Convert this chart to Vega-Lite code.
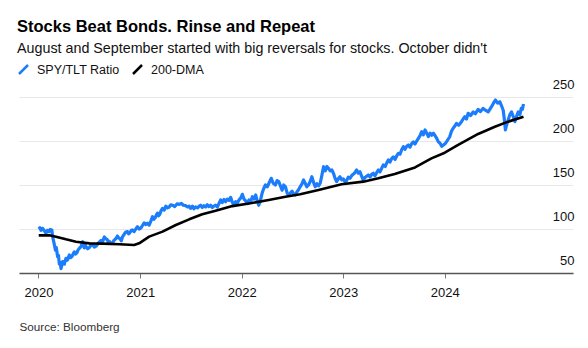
{
  "$schema": "https://vega.github.io/schema/vega-lite/v6.json",
  "width": 554,
  "height": 176,
  "autosize": {"type": "none"},
  "padding": {"left": 19, "top": 97, "right": 15, "bottom": 75},
  "background": "#ffffff",
  "config": {
    "view": {"stroke": null},
    "font": "Liberation Sans"
  },
  "title": {
    "text": "Stocks Beat Bonds. Rinse and Repeat",
    "subtitle": "August and September started with big reversals for stocks. October didn't",
    "anchor": "start",
    "frame": "group",
    "font": "Liberation Sans",
    "fontSize": 16.5,
    "fontWeight": "bold",
    "color": "#000000",
    "subtitleFont": "Liberation Sans",
    "subtitleFontSize": 14.3,
    "subtitleColor": "#111111",
    "subtitlePadding": 6.5,
    "dx": -2,
    "offset": 7
  },
  "datasets": {
    "ratio": [
      {"date": "2020-01-02", "series": "SPY/TLT Ratio", "value": 100},
      {"date": "2020-01-06", "series": "SPY/TLT Ratio", "value": 101.5},
      {"date": "2020-01-10", "series": "SPY/TLT Ratio", "value": 98.5},
      {"date": "2020-01-13", "series": "SPY/TLT Ratio", "value": 100.5},
      {"date": "2020-01-16", "series": "SPY/TLT Ratio", "value": 100.8},
      {"date": "2020-01-22", "series": "SPY/TLT Ratio", "value": 98},
      {"date": "2020-01-28", "series": "SPY/TLT Ratio", "value": 95},
      {"date": "2020-02-02", "series": "SPY/TLT Ratio", "value": 98.5},
      {"date": "2020-02-08", "series": "SPY/TLT Ratio", "value": 97},
      {"date": "2020-02-12", "series": "SPY/TLT Ratio", "value": 99.5},
      {"date": "2020-02-15", "series": "SPY/TLT Ratio", "value": 98},
      {"date": "2020-02-18", "series": "SPY/TLT Ratio", "value": 99},
      {"date": "2020-02-21", "series": "SPY/TLT Ratio", "value": 91},
      {"date": "2020-02-26", "series": "SPY/TLT Ratio", "value": 84},
      {"date": "2020-03-02", "series": "SPY/TLT Ratio", "value": 76},
      {"date": "2020-03-05", "series": "SPY/TLT Ratio", "value": 79},
      {"date": "2020-03-10", "series": "SPY/TLT Ratio", "value": 68.5},
      {"date": "2020-03-13", "series": "SPY/TLT Ratio", "value": 70},
      {"date": "2020-03-16", "series": "SPY/TLT Ratio", "value": 60},
      {"date": "2020-03-19", "series": "SPY/TLT Ratio", "value": 62},
      {"date": "2020-03-22", "series": "SPY/TLT Ratio", "value": 55},
      {"date": "2020-03-25", "series": "SPY/TLT Ratio", "value": 59},
      {"date": "2020-03-28", "series": "SPY/TLT Ratio", "value": 63},
      {"date": "2020-03-31", "series": "SPY/TLT Ratio", "value": 60.5},
      {"date": "2020-04-03", "series": "SPY/TLT Ratio", "value": 60},
      {"date": "2020-04-06", "series": "SPY/TLT Ratio", "value": 64},
      {"date": "2020-04-09", "series": "SPY/TLT Ratio", "value": 66.7},
      {"date": "2020-04-12", "series": "SPY/TLT Ratio", "value": 64.5},
      {"date": "2020-04-15", "series": "SPY/TLT Ratio", "value": 65},
      {"date": "2020-04-18", "series": "SPY/TLT Ratio", "value": 68},
      {"date": "2020-04-21", "series": "SPY/TLT Ratio", "value": 70.5},
      {"date": "2020-04-26", "series": "SPY/TLT Ratio", "value": 67.5},
      {"date": "2020-05-01", "series": "SPY/TLT Ratio", "value": 69},
      {"date": "2020-05-05", "series": "SPY/TLT Ratio", "value": 72},
      {"date": "2020-05-09", "series": "SPY/TLT Ratio", "value": 74},
      {"date": "2020-05-13", "series": "SPY/TLT Ratio", "value": 71.5},
      {"date": "2020-05-18", "series": "SPY/TLT Ratio", "value": 73},
      {"date": "2020-05-22", "series": "SPY/TLT Ratio", "value": 76},
      {"date": "2020-05-27", "series": "SPY/TLT Ratio", "value": 78},
      {"date": "2020-06-02", "series": "SPY/TLT Ratio", "value": 80},
      {"date": "2020-06-08", "series": "SPY/TLT Ratio", "value": 85.6},
      {"date": "2020-06-11", "series": "SPY/TLT Ratio", "value": 81},
      {"date": "2020-06-14", "series": "SPY/TLT Ratio", "value": 78.5},
      {"date": "2020-06-17", "series": "SPY/TLT Ratio", "value": 82},
      {"date": "2020-06-20", "series": "SPY/TLT Ratio", "value": 80},
      {"date": "2020-06-26", "series": "SPY/TLT Ratio", "value": 77.5},
      {"date": "2020-07-02", "series": "SPY/TLT Ratio", "value": 79},
      {"date": "2020-07-08", "series": "SPY/TLT Ratio", "value": 81.5},
      {"date": "2020-07-14", "series": "SPY/TLT Ratio", "value": 82},
      {"date": "2020-07-20", "series": "SPY/TLT Ratio", "value": 79.5},
      {"date": "2020-07-26", "series": "SPY/TLT Ratio", "value": 80.5},
      {"date": "2020-08-01", "series": "SPY/TLT Ratio", "value": 83},
      {"date": "2020-08-07", "series": "SPY/TLT Ratio", "value": 85},
      {"date": "2020-08-13", "series": "SPY/TLT Ratio", "value": 87},
      {"date": "2020-08-19", "series": "SPY/TLT Ratio", "value": 86},
      {"date": "2020-08-25", "series": "SPY/TLT Ratio", "value": 91},
      {"date": "2020-08-30", "series": "SPY/TLT Ratio", "value": 89},
      {"date": "2020-09-04", "series": "SPY/TLT Ratio", "value": 88},
      {"date": "2020-09-08", "series": "SPY/TLT Ratio", "value": 85},
      {"date": "2020-09-12", "series": "SPY/TLT Ratio", "value": 86},
      {"date": "2020-09-17", "series": "SPY/TLT Ratio", "value": 83.5},
      {"date": "2020-09-23", "series": "SPY/TLT Ratio", "value": 84},
      {"date": "2020-09-28", "series": "SPY/TLT Ratio", "value": 87},
      {"date": "2020-10-04", "series": "SPY/TLT Ratio", "value": 88.5},
      {"date": "2020-10-11", "series": "SPY/TLT Ratio", "value": 92},
      {"date": "2020-10-15", "series": "SPY/TLT Ratio", "value": 90},
      {"date": "2020-10-20", "series": "SPY/TLT Ratio", "value": 89},
      {"date": "2020-10-25", "series": "SPY/TLT Ratio", "value": 86.5},
      {"date": "2020-10-29", "series": "SPY/TLT Ratio", "value": 91},
      {"date": "2020-11-04", "series": "SPY/TLT Ratio", "value": 94},
      {"date": "2020-11-10", "series": "SPY/TLT Ratio", "value": 96.5},
      {"date": "2020-11-16", "series": "SPY/TLT Ratio", "value": 97},
      {"date": "2020-11-20", "series": "SPY/TLT Ratio", "value": 94.5},
      {"date": "2020-11-25", "series": "SPY/TLT Ratio", "value": 96},
      {"date": "2020-11-30", "series": "SPY/TLT Ratio", "value": 98.5},
      {"date": "2020-12-04", "series": "SPY/TLT Ratio", "value": 99},
      {"date": "2020-12-10", "series": "SPY/TLT Ratio", "value": 97},
      {"date": "2020-12-16", "series": "SPY/TLT Ratio", "value": 100},
      {"date": "2020-12-22", "series": "SPY/TLT Ratio", "value": 102.6},
      {"date": "2020-12-28", "series": "SPY/TLT Ratio", "value": 100},
      {"date": "2021-01-03", "series": "SPY/TLT Ratio", "value": 101},
      {"date": "2021-01-09", "series": "SPY/TLT Ratio", "value": 104},
      {"date": "2021-01-15", "series": "SPY/TLT Ratio", "value": 107},
      {"date": "2021-01-21", "series": "SPY/TLT Ratio", "value": 105},
      {"date": "2021-01-27", "series": "SPY/TLT Ratio", "value": 106.5},
      {"date": "2021-02-02", "series": "SPY/TLT Ratio", "value": 104.5},
      {"date": "2021-02-08", "series": "SPY/TLT Ratio", "value": 109},
      {"date": "2021-02-14", "series": "SPY/TLT Ratio", "value": 114},
      {"date": "2021-02-19", "series": "SPY/TLT Ratio", "value": 111},
      {"date": "2021-02-24", "series": "SPY/TLT Ratio", "value": 113},
      {"date": "2021-02-28", "series": "SPY/TLT Ratio", "value": 116},
      {"date": "2021-03-04", "series": "SPY/TLT Ratio", "value": 118},
      {"date": "2021-03-08", "series": "SPY/TLT Ratio", "value": 115},
      {"date": "2021-03-12", "series": "SPY/TLT Ratio", "value": 116.5},
      {"date": "2021-03-17", "series": "SPY/TLT Ratio", "value": 121},
      {"date": "2021-03-22", "series": "SPY/TLT Ratio", "value": 123.5},
      {"date": "2021-03-28", "series": "SPY/TLT Ratio", "value": 121.5},
      {"date": "2021-04-03", "series": "SPY/TLT Ratio", "value": 126},
      {"date": "2021-04-09", "series": "SPY/TLT Ratio", "value": 124},
      {"date": "2021-04-15", "series": "SPY/TLT Ratio", "value": 125},
      {"date": "2021-04-21", "series": "SPY/TLT Ratio", "value": 127.5},
      {"date": "2021-04-27", "series": "SPY/TLT Ratio", "value": 127},
      {"date": "2021-05-05", "series": "SPY/TLT Ratio", "value": 125.5},
      {"date": "2021-05-13", "series": "SPY/TLT Ratio", "value": 128.5},
      {"date": "2021-05-21", "series": "SPY/TLT Ratio", "value": 128},
      {"date": "2021-05-29", "series": "SPY/TLT Ratio", "value": 129},
      {"date": "2021-06-05", "series": "SPY/TLT Ratio", "value": 127},
      {"date": "2021-06-13", "series": "SPY/TLT Ratio", "value": 126.5},
      {"date": "2021-06-20", "series": "SPY/TLT Ratio", "value": 125},
      {"date": "2021-06-26", "series": "SPY/TLT Ratio", "value": 126},
      {"date": "2021-07-01", "series": "SPY/TLT Ratio", "value": 123.5},
      {"date": "2021-07-08", "series": "SPY/TLT Ratio", "value": 126},
      {"date": "2021-07-13", "series": "SPY/TLT Ratio", "value": 123},
      {"date": "2021-07-19", "series": "SPY/TLT Ratio", "value": 125},
      {"date": "2021-07-26", "series": "SPY/TLT Ratio", "value": 124},
      {"date": "2021-08-01", "series": "SPY/TLT Ratio", "value": 126},
      {"date": "2021-08-06", "series": "SPY/TLT Ratio", "value": 127},
      {"date": "2021-08-12", "series": "SPY/TLT Ratio", "value": 124.5},
      {"date": "2021-08-18", "series": "SPY/TLT Ratio", "value": 126.5},
      {"date": "2021-08-24", "series": "SPY/TLT Ratio", "value": 125},
      {"date": "2021-08-30", "series": "SPY/TLT Ratio", "value": 127.5},
      {"date": "2021-09-05", "series": "SPY/TLT Ratio", "value": 125.5},
      {"date": "2021-09-11", "series": "SPY/TLT Ratio", "value": 127},
      {"date": "2021-09-17", "series": "SPY/TLT Ratio", "value": 124.5},
      {"date": "2021-09-23", "series": "SPY/TLT Ratio", "value": 126},
      {"date": "2021-09-29", "series": "SPY/TLT Ratio", "value": 127},
      {"date": "2021-10-05", "series": "SPY/TLT Ratio", "value": 125},
      {"date": "2021-10-11", "series": "SPY/TLT Ratio", "value": 129},
      {"date": "2021-10-17", "series": "SPY/TLT Ratio", "value": 133},
      {"date": "2021-10-23", "series": "SPY/TLT Ratio", "value": 130},
      {"date": "2021-10-29", "series": "SPY/TLT Ratio", "value": 133.5},
      {"date": "2021-11-04", "series": "SPY/TLT Ratio", "value": 131},
      {"date": "2021-11-10", "series": "SPY/TLT Ratio", "value": 134},
      {"date": "2021-11-16", "series": "SPY/TLT Ratio", "value": 132.5},
      {"date": "2021-11-22", "series": "SPY/TLT Ratio", "value": 136},
      {"date": "2021-11-28", "series": "SPY/TLT Ratio", "value": 130.5},
      {"date": "2021-12-04", "series": "SPY/TLT Ratio", "value": 127},
      {"date": "2021-12-10", "series": "SPY/TLT Ratio", "value": 131},
      {"date": "2021-12-16", "series": "SPY/TLT Ratio", "value": 129.5},
      {"date": "2021-12-22", "series": "SPY/TLT Ratio", "value": 133},
      {"date": "2021-12-28", "series": "SPY/TLT Ratio", "value": 135},
      {"date": "2022-01-03", "series": "SPY/TLT Ratio", "value": 139.4},
      {"date": "2022-01-09", "series": "SPY/TLT Ratio", "value": 134},
      {"date": "2022-01-15", "series": "SPY/TLT Ratio", "value": 132},
      {"date": "2022-01-21", "series": "SPY/TLT Ratio", "value": 129},
      {"date": "2022-01-27", "series": "SPY/TLT Ratio", "value": 133},
      {"date": "2022-02-02", "series": "SPY/TLT Ratio", "value": 131},
      {"date": "2022-02-08", "series": "SPY/TLT Ratio", "value": 136.7},
      {"date": "2022-02-14", "series": "SPY/TLT Ratio", "value": 134},
      {"date": "2022-02-20", "series": "SPY/TLT Ratio", "value": 138.6},
      {"date": "2022-02-25", "series": "SPY/TLT Ratio", "value": 133},
      {"date": "2022-03-03", "series": "SPY/TLT Ratio", "value": 127},
      {"date": "2022-03-08", "series": "SPY/TLT Ratio", "value": 131},
      {"date": "2022-03-15", "series": "SPY/TLT Ratio", "value": 140.6},
      {"date": "2022-03-21", "series": "SPY/TLT Ratio", "value": 146},
      {"date": "2022-03-27", "series": "SPY/TLT Ratio", "value": 150},
      {"date": "2022-04-03", "series": "SPY/TLT Ratio", "value": 148},
      {"date": "2022-04-10", "series": "SPY/TLT Ratio", "value": 153},
      {"date": "2022-04-17", "series": "SPY/TLT Ratio", "value": 157.6},
      {"date": "2022-04-24", "series": "SPY/TLT Ratio", "value": 152},
      {"date": "2022-05-02", "series": "SPY/TLT Ratio", "value": 150},
      {"date": "2022-05-08", "series": "SPY/TLT Ratio", "value": 155},
      {"date": "2022-05-14", "series": "SPY/TLT Ratio", "value": 153.8},
      {"date": "2022-05-20", "series": "SPY/TLT Ratio", "value": 149},
      {"date": "2022-05-26", "series": "SPY/TLT Ratio", "value": 144},
      {"date": "2022-06-01", "series": "SPY/TLT Ratio", "value": 150},
      {"date": "2022-06-07", "series": "SPY/TLT Ratio", "value": 148},
      {"date": "2022-06-13", "series": "SPY/TLT Ratio", "value": 141},
      {"date": "2022-06-19", "series": "SPY/TLT Ratio", "value": 138.6},
      {"date": "2022-06-25", "series": "SPY/TLT Ratio", "value": 141},
      {"date": "2022-07-01", "series": "SPY/TLT Ratio", "value": 143},
      {"date": "2022-07-06", "series": "SPY/TLT Ratio", "value": 140},
      {"date": "2022-07-12", "series": "SPY/TLT Ratio", "value": 138.6},
      {"date": "2022-07-18", "series": "SPY/TLT Ratio", "value": 142},
      {"date": "2022-07-24", "series": "SPY/TLT Ratio", "value": 144.5},
      {"date": "2022-07-30", "series": "SPY/TLT Ratio", "value": 148},
      {"date": "2022-08-05", "series": "SPY/TLT Ratio", "value": 151},
      {"date": "2022-08-11", "series": "SPY/TLT Ratio", "value": 155.7},
      {"date": "2022-08-17", "series": "SPY/TLT Ratio", "value": 152},
      {"date": "2022-08-23", "series": "SPY/TLT Ratio", "value": 148},
      {"date": "2022-08-29", "series": "SPY/TLT Ratio", "value": 150},
      {"date": "2022-09-04", "series": "SPY/TLT Ratio", "value": 154},
      {"date": "2022-09-10", "series": "SPY/TLT Ratio", "value": 159.4},
      {"date": "2022-09-16", "series": "SPY/TLT Ratio", "value": 153},
      {"date": "2022-09-22", "series": "SPY/TLT Ratio", "value": 148},
      {"date": "2022-09-28", "series": "SPY/TLT Ratio", "value": 151.5},
      {"date": "2022-10-04", "series": "SPY/TLT Ratio", "value": 149},
      {"date": "2022-10-10", "series": "SPY/TLT Ratio", "value": 152},
      {"date": "2022-10-16", "series": "SPY/TLT Ratio", "value": 161},
      {"date": "2022-10-22", "series": "SPY/TLT Ratio", "value": 170.8},
      {"date": "2022-10-28", "series": "SPY/TLT Ratio", "value": 166},
      {"date": "2022-11-03", "series": "SPY/TLT Ratio", "value": 171},
      {"date": "2022-11-09", "series": "SPY/TLT Ratio", "value": 169},
      {"date": "2022-11-15", "series": "SPY/TLT Ratio", "value": 166},
      {"date": "2022-11-21", "series": "SPY/TLT Ratio", "value": 167},
      {"date": "2022-11-27", "series": "SPY/TLT Ratio", "value": 163},
      {"date": "2022-12-02", "series": "SPY/TLT Ratio", "value": 158},
      {"date": "2022-12-08", "series": "SPY/TLT Ratio", "value": 153.8},
      {"date": "2022-12-14", "series": "SPY/TLT Ratio", "value": 157},
      {"date": "2022-12-20", "series": "SPY/TLT Ratio", "value": 159.4},
      {"date": "2022-12-26", "series": "SPY/TLT Ratio", "value": 156},
      {"date": "2023-01-01", "series": "SPY/TLT Ratio", "value": 157},
      {"date": "2023-01-07", "series": "SPY/TLT Ratio", "value": 153.8},
      {"date": "2023-01-13", "series": "SPY/TLT Ratio", "value": 155},
      {"date": "2023-01-19", "series": "SPY/TLT Ratio", "value": 159},
      {"date": "2023-01-25", "series": "SPY/TLT Ratio", "value": 157.6},
      {"date": "2023-02-01", "series": "SPY/TLT Ratio", "value": 161},
      {"date": "2023-02-09", "series": "SPY/TLT Ratio", "value": 163},
      {"date": "2023-02-18", "series": "SPY/TLT Ratio", "value": 167},
      {"date": "2023-02-24", "series": "SPY/TLT Ratio", "value": 163.5},
      {"date": "2023-03-02", "series": "SPY/TLT Ratio", "value": 165},
      {"date": "2023-03-08", "series": "SPY/TLT Ratio", "value": 160},
      {"date": "2023-03-14", "series": "SPY/TLT Ratio", "value": 155.7},
      {"date": "2023-03-20", "series": "SPY/TLT Ratio", "value": 158.5},
      {"date": "2023-03-26", "series": "SPY/TLT Ratio", "value": 160},
      {"date": "2023-04-01", "series": "SPY/TLT Ratio", "value": 161.4},
      {"date": "2023-04-07", "series": "SPY/TLT Ratio", "value": 159},
      {"date": "2023-04-13", "series": "SPY/TLT Ratio", "value": 162},
      {"date": "2023-04-19", "series": "SPY/TLT Ratio", "value": 163.3},
      {"date": "2023-04-25", "series": "SPY/TLT Ratio", "value": 160.5},
      {"date": "2023-05-01", "series": "SPY/TLT Ratio", "value": 164},
      {"date": "2023-05-07", "series": "SPY/TLT Ratio", "value": 167},
      {"date": "2023-05-13", "series": "SPY/TLT Ratio", "value": 165},
      {"date": "2023-05-19", "series": "SPY/TLT Ratio", "value": 169},
      {"date": "2023-05-25", "series": "SPY/TLT Ratio", "value": 172.7},
      {"date": "2023-06-01", "series": "SPY/TLT Ratio", "value": 171},
      {"date": "2023-06-06", "series": "SPY/TLT Ratio", "value": 175},
      {"date": "2023-06-12", "series": "SPY/TLT Ratio", "value": 178.4},
      {"date": "2023-06-18", "series": "SPY/TLT Ratio", "value": 176},
      {"date": "2023-06-24", "series": "SPY/TLT Ratio", "value": 180},
      {"date": "2023-06-30", "series": "SPY/TLT Ratio", "value": 182},
      {"date": "2023-07-06", "series": "SPY/TLT Ratio", "value": 179},
      {"date": "2023-07-12", "series": "SPY/TLT Ratio", "value": 183},
      {"date": "2023-07-18", "series": "SPY/TLT Ratio", "value": 186},
      {"date": "2023-07-24", "series": "SPY/TLT Ratio", "value": 185},
      {"date": "2023-07-30", "series": "SPY/TLT Ratio", "value": 190},
      {"date": "2023-08-05", "series": "SPY/TLT Ratio", "value": 193.5},
      {"date": "2023-08-11", "series": "SPY/TLT Ratio", "value": 190.5},
      {"date": "2023-08-17", "series": "SPY/TLT Ratio", "value": 194},
      {"date": "2023-08-23", "series": "SPY/TLT Ratio", "value": 195.5},
      {"date": "2023-08-29", "series": "SPY/TLT Ratio", "value": 193},
      {"date": "2023-09-04", "series": "SPY/TLT Ratio", "value": 197},
      {"date": "2023-09-10", "series": "SPY/TLT Ratio", "value": 199},
      {"date": "2023-09-16", "series": "SPY/TLT Ratio", "value": 196.5},
      {"date": "2023-09-22", "series": "SPY/TLT Ratio", "value": 200},
      {"date": "2023-09-28", "series": "SPY/TLT Ratio", "value": 203},
      {"date": "2023-10-04", "series": "SPY/TLT Ratio", "value": 206},
      {"date": "2023-10-10", "series": "SPY/TLT Ratio", "value": 210.6},
      {"date": "2023-10-16", "series": "SPY/TLT Ratio", "value": 207},
      {"date": "2023-10-22", "series": "SPY/TLT Ratio", "value": 212.5},
      {"date": "2023-10-28", "series": "SPY/TLT Ratio", "value": 209},
      {"date": "2023-11-03", "series": "SPY/TLT Ratio", "value": 205},
      {"date": "2023-11-09", "series": "SPY/TLT Ratio", "value": 209},
      {"date": "2023-11-15", "series": "SPY/TLT Ratio", "value": 206.5},
      {"date": "2023-11-21", "series": "SPY/TLT Ratio", "value": 208.8},
      {"date": "2023-11-27", "series": "SPY/TLT Ratio", "value": 206},
      {"date": "2023-12-03", "series": "SPY/TLT Ratio", "value": 203},
      {"date": "2023-12-09", "series": "SPY/TLT Ratio", "value": 199},
      {"date": "2023-12-15", "series": "SPY/TLT Ratio", "value": 197.4},
      {"date": "2023-12-21", "series": "SPY/TLT Ratio", "value": 194},
      {"date": "2023-12-27", "series": "SPY/TLT Ratio", "value": 195.5},
      {"date": "2024-01-02", "series": "SPY/TLT Ratio", "value": 197},
      {"date": "2024-01-07", "series": "SPY/TLT Ratio", "value": 199},
      {"date": "2024-01-13", "series": "SPY/TLT Ratio", "value": 202},
      {"date": "2024-01-19", "series": "SPY/TLT Ratio", "value": 205},
      {"date": "2024-01-25", "series": "SPY/TLT Ratio", "value": 211},
      {"date": "2024-01-31", "series": "SPY/TLT Ratio", "value": 214.4},
      {"date": "2024-02-06", "series": "SPY/TLT Ratio", "value": 217},
      {"date": "2024-02-12", "series": "SPY/TLT Ratio", "value": 220},
      {"date": "2024-02-20", "series": "SPY/TLT Ratio", "value": 218},
      {"date": "2024-03-01", "series": "SPY/TLT Ratio", "value": 222},
      {"date": "2024-03-07", "series": "SPY/TLT Ratio", "value": 225},
      {"date": "2024-03-13", "series": "SPY/TLT Ratio", "value": 227.6},
      {"date": "2024-03-19", "series": "SPY/TLT Ratio", "value": 225},
      {"date": "2024-03-25", "series": "SPY/TLT Ratio", "value": 231.5},
      {"date": "2024-04-03", "series": "SPY/TLT Ratio", "value": 229},
      {"date": "2024-04-12", "series": "SPY/TLT Ratio", "value": 233},
      {"date": "2024-04-20", "series": "SPY/TLT Ratio", "value": 231},
      {"date": "2024-04-30", "series": "SPY/TLT Ratio", "value": 236},
      {"date": "2024-05-08", "series": "SPY/TLT Ratio", "value": 233.5},
      {"date": "2024-05-18", "series": "SPY/TLT Ratio", "value": 237},
      {"date": "2024-05-26", "series": "SPY/TLT Ratio", "value": 235},
      {"date": "2024-06-05", "series": "SPY/TLT Ratio", "value": 233},
      {"date": "2024-06-11", "series": "SPY/TLT Ratio", "value": 236},
      {"date": "2024-06-17", "series": "SPY/TLT Ratio", "value": 239},
      {"date": "2024-06-24", "series": "SPY/TLT Ratio", "value": 243},
      {"date": "2024-07-01", "series": "SPY/TLT Ratio", "value": 246.6},
      {"date": "2024-07-09", "series": "SPY/TLT Ratio", "value": 243},
      {"date": "2024-07-17", "series": "SPY/TLT Ratio", "value": 244.6},
      {"date": "2024-07-23", "series": "SPY/TLT Ratio", "value": 240},
      {"date": "2024-07-29", "series": "SPY/TLT Ratio", "value": 235},
      {"date": "2024-08-02", "series": "SPY/TLT Ratio", "value": 225},
      {"date": "2024-08-06", "series": "SPY/TLT Ratio", "value": 212.5},
      {"date": "2024-08-10", "series": "SPY/TLT Ratio", "value": 218},
      {"date": "2024-08-16", "series": "SPY/TLT Ratio", "value": 224},
      {"date": "2024-08-22", "series": "SPY/TLT Ratio", "value": 230},
      {"date": "2024-08-28", "series": "SPY/TLT Ratio", "value": 233},
      {"date": "2024-09-03", "series": "SPY/TLT Ratio", "value": 228},
      {"date": "2024-09-09", "series": "SPY/TLT Ratio", "value": 222},
      {"date": "2024-09-15", "series": "SPY/TLT Ratio", "value": 228},
      {"date": "2024-09-21", "series": "SPY/TLT Ratio", "value": 233},
      {"date": "2024-09-27", "series": "SPY/TLT Ratio", "value": 230},
      {"date": "2024-10-02", "series": "SPY/TLT Ratio", "value": 237},
      {"date": "2024-10-06", "series": "SPY/TLT Ratio", "value": 236},
      {"date": "2024-10-10", "series": "SPY/TLT Ratio", "value": 242}
    ],
    "dma": [
      {"date": "2020-01-02", "series": "200-DMA", "value": 92.8},
      {"date": "2020-02-09", "series": "200-DMA", "value": 92.8},
      {"date": "2020-03-04", "series": "200-DMA", "value": 91.3},
      {"date": "2020-04-09", "series": "200-DMA", "value": 88.3},
      {"date": "2020-05-15", "series": "200-DMA", "value": 85.6},
      {"date": "2020-07-02", "series": "200-DMA", "value": 83.7},
      {"date": "2020-08-19", "series": "200-DMA", "value": 83.4},
      {"date": "2020-10-18", "series": "200-DMA", "value": 82.6},
      {"date": "2020-12-10", "series": "200-DMA", "value": 81.8},
      {"date": "2020-12-28", "series": "200-DMA", "value": 83.7},
      {"date": "2021-02-02", "series": "200-DMA", "value": 91.3},
      {"date": "2021-03-22", "series": "200-DMA", "value": 97},
      {"date": "2021-05-09", "series": "200-DMA", "value": 104.5},
      {"date": "2021-06-26", "series": "200-DMA", "value": 111},
      {"date": "2021-08-12", "series": "200-DMA", "value": 116.7},
      {"date": "2021-09-29", "series": "200-DMA", "value": 120.8},
      {"date": "2021-11-28", "series": "200-DMA", "value": 126},
      {"date": "2022-01-27", "series": "200-DMA", "value": 129},
      {"date": "2022-04-08", "series": "200-DMA", "value": 133},
      {"date": "2022-06-07", "series": "200-DMA", "value": 136.7},
      {"date": "2022-07-30", "series": "200-DMA", "value": 139.4},
      {"date": "2022-10-04", "series": "200-DMA", "value": 144.3},
      {"date": "2022-12-26", "series": "200-DMA", "value": 150.8},
      {"date": "2023-03-14", "series": "200-DMA", "value": 153.8},
      {"date": "2023-05-07", "series": "200-DMA", "value": 157.6},
      {"date": "2023-07-05", "series": "200-DMA", "value": 162.5},
      {"date": "2023-09-16", "series": "200-DMA", "value": 170},
      {"date": "2023-11-14", "series": "200-DMA", "value": 180.3},
      {"date": "2024-01-01", "series": "200-DMA", "value": 186.7},
      {"date": "2024-02-18", "series": "200-DMA", "value": 195.5},
      {"date": "2024-04-30", "series": "200-DMA", "value": 208},
      {"date": "2024-06-29", "series": "200-DMA", "value": 216.2},
      {"date": "2024-08-16", "series": "200-DMA", "value": 222},
      {"date": "2024-10-10", "series": "200-DMA", "value": 227.6}
    ]
  },
  "encoding": {
    "x": {
      "field": "date",
      "type": "temporal",
      "scale": {"type": "utc", "domain": [{"year": 2019, "month": 10, "date": 23, "utc": true}, {"year": 2025, "month": 4, "date": 6, "utc": true}]},
      "axis": {
        "title": "Source: Bloomberg",
        "titleFont": "Liberation Sans",
        "titleFontSize": 11.7,
        "titleFontWeight": "normal",
        "titleColor": "#333333",
        "titleAnchor": "start",
        "titleAlign": "left",
        "titleBaseline": "alphabetic",
        "titleX": 0,
        "titleY": 57,
        "format": "%Y",
        "values": [
          {"year": 2020, "month": 1, "date": 1, "utc": true},
          {"year": 2021, "month": 1, "date": 1, "utc": true},
          {"year": 2022, "month": 1, "date": 1, "utc": true},
          {"year": 2023, "month": 1, "date": 1, "utc": true},
          {"year": 2024, "month": 1, "date": 1, "utc": true}
        ],
        "grid": false,
        "domainColor": "#555555",
        "domainWidth": 1.3,
        "tickColor": "#777777",
        "tickSize": 5,
        "labelFont": "Liberation Sans",
        "labelFontSize": 13,
        "labelColor": "#111111",
        "labelPadding": 8,
        "labelFlush": false
      }
    },
    "y": {
      "field": "value",
      "type": "quantitative",
      "scale": {"domain": [50, 250]},
      "axis": {
        "orient": "right",
        "title": null,
        "values": [50, 100, 150, 200, 250],
        "domain": false,
        "ticks": false,
        "grid": true,
        "gridColor": "#e8e8e8",
        "gridWidth": 1,
        "labelFont": "Liberation Sans",
        "labelFontSize": 13,
        "labelColor": "#111111",
        "labelAlign": "right",
        "labelBaseline": "alphabetic",
        "labelOffset": -8.5,
        "labelPadding": 1,
        "labelFlush": false
      }
    },
    "color": {
      "field": "series",
      "type": "nominal",
      "scale": {"domain": ["SPY/TLT Ratio", "200-DMA"], "range": ["#1c7dfb", "#000000"]},
      "legend": {
        "title": null,
        "orient": "none",
        "direction": "horizontal",
        "legendX": -2,
        "legendY": -34,
        "padding": 0,
        "symbolType": "M-0.9,0.9L0.9,-0.9",
        "symbolSize": 100,
        "symbolStrokeWidth": 2.5,
        "labelFont": "Liberation Sans",
        "labelFontSize": 12.5,
        "labelColor": "#111111",
        "labelOffset": 7,
        "columnPadding": 8
      }
    }
  },
  "layer": [
    {
      "data": {"name": "ratio"},
      "mark": {"type": "line", "strokeWidth": 3.2, "strokeJoin": "round", "clip": true}
    },
    {
      "data": {"name": "dma"},
      "mark": {"type": "line", "strokeWidth": 2.6, "strokeJoin": "round", "clip": true}
    }
  ]
}
